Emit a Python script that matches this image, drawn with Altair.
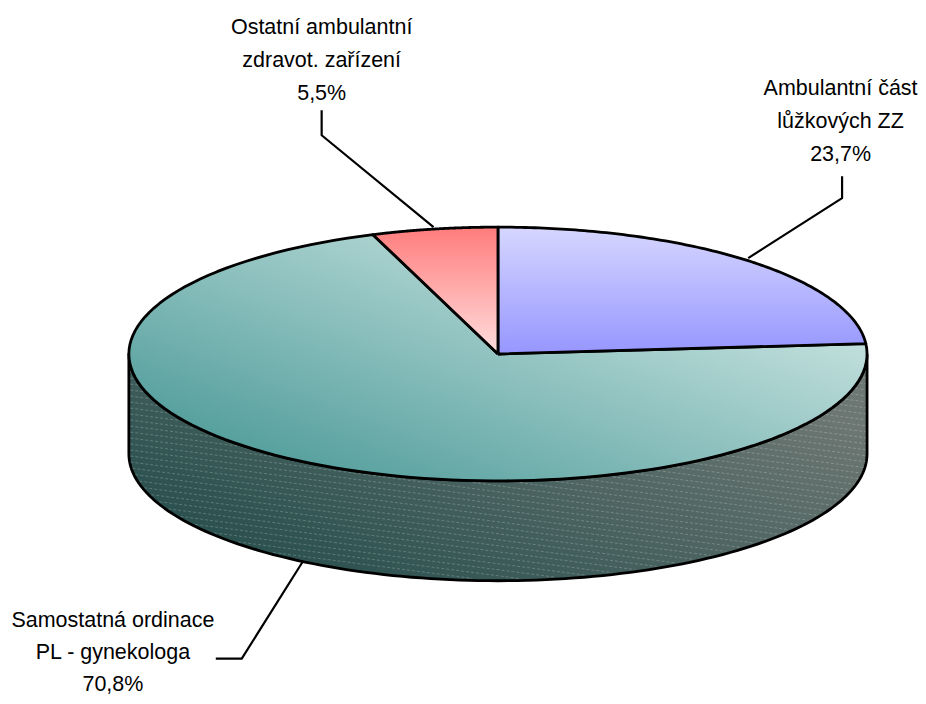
import math
import altair as alt
import pandas as pd

# ---- chart values ----
categories = ["Ambulantní část lůžkových ZZ", "Samostatná ordinace PL - gynekologa", "Ostatní ambulantní zdravot. zařízení"]
shares = [23.7, 70.8, 5.5]
label_lines = [
    ["Ambulantní část", "lůžkových ZZ", "23,7%"],
    ["Samostatná ordinace", "PL - gynekologa", "70,8%"],
    ["Ostatní ambulantní", "zdravot. zařízení", "5,5%"],
]

# ---- layout (image pixels) ----
CX, CY, RX, RY, DEPTH = 498.5, 354.0, 369.5, 127.0, 100.0
FONT = "Liberation Sans"
FS = 21.5
label_x = [841.5, 113, 322]
label_base = [95, 627, 34]
label_step = [33, 32, 33]
leaders = [
    [(749, 258), (843, 198), (843, 176)],
    [(303, 562), (242, 659), (216, 659)],
    [(434, 227), (322, 135), (322, 110)],
]


def pt(frac, dy=0.0):
    a = 2 * math.pi * frac
    return CX + RX * math.sin(a), CY - RY * math.cos(a) + dy


def arc(f0, f1, dy=0.0, n=120):
    return [pt(f0 + (f1 - f0) * i / n, dy) for i in range(n + 1)]


def grad(c0, c1, x1, y1, x2, y2):
    return alt.Gradient(gradient="linear", x1=x1, y1=y1, x2=x2, y2=y2,
                        stops=[alt.GradientStop(color=c0, offset=0), alt.GradientStop(color=c1, offset=1)])


xs = alt.Scale(domain=[8, 918], range=[0, 910], nice=False, zero=False)
ys = alt.Scale(domain=[8, 696], range=[0, 688], nice=False, zero=False)


def poly(points, fill=None, sw=2.8, color="black"):
    df = pd.DataFrame([{"x": p[0], "y": p[1], "o": i} for i, p in enumerate(points)])
    kw = dict(stroke=color, strokeWidth=sw, strokeJoin="round", clip=False)
    if fill is not None:
        kw.update(fill=fill, filled=True)
    return alt.Chart(df).mark_line(**kw).encode(
        x=alt.X("x:Q", scale=xs, axis=None),
        y=alt.Y("y:Q", scale=ys, axis=None),
        order="o:Q",
    )


fracs = []
c = 0.0
for s in shares:
    fracs.append((c / 100, (c + s) / 100))
    c += s

# side wall: visible front half of the cylinder
side_top = arc(0.25, 0.75)
side_pts = side_top + [(x, y + DEPTH) for x, y in reversed(side_top)]
side_pts.append(side_pts[0])
layers = [poly(side_pts, grad("#1d4948", "#6c7672", 0, 1, 1, 0.35))]

# fine hatch texture of the side wall
SLOPE, STEP = 0.13, 6.0
segs = []
c0 = CY - SLOPE * (CX + RX)
n_lines = int((RY + DEPTH + 2 * SLOPE * RX + RY) / STEP)


def front_edge(x):
    u = (x - CX) / RX
    return CY + RY * math.sqrt(max(0.0, 1 - u * u))


for k in range(n_lines + 1):
    off = c0 + k * STEP
    run = []
    x = CX - RX + 1.5
    while x <= CX + RX - 1.5:
        y = off + SLOPE * x
        if front_edge(x) + 2 < y < front_edge(x) + DEPTH - 2:
            run.append((x, y))
        elif run:
            segs.append(run)
            run = []
        x += 1.0
    if run:
        segs.append(run)
seg_df = pd.DataFrame([
    {"x": r[0][0], "y": r[0][1], "x2": r[-1][0], "y2": r[-1][1]} for r in segs if len(r) > 1
])
layers.append(
    alt.Chart(seg_df).mark_rule(stroke="white", strokeWidth=1, strokeDash=[3, 2], opacity=0.22).encode(
        x=alt.X("x:Q", scale=xs, axis=None), y=alt.Y("y:Q", scale=ys, axis=None), x2="x2:Q", y2="y2:Q")
)

fills = [
    grad("#d6d6ff", "#9696ff", 0, 0, 0, 1),
    grad("#3e9290", "#dcefec", 0, 1, 1, 0.1),
    grad("#ff7c7c", "#ffdede", 0, 0, 0, 1),
]
order = [1, 0, 2]
for i in order:
    f0, f1 = fracs[i]
    pts = [(CX, CY)] + arc(f0, f1) + [(CX, CY)]
    layers.append(poly(pts, fills[i]))

for path in leaders:
    layers.append(poly(path, sw=2.2))

rows = []
for lines, lx, lb, st in zip(label_lines, label_x, label_base, label_step):
    for k, t in enumerate(lines):
        rows.append({"x": lx, "y": lb + k * st, "t": t})
layers.append(
    alt.Chart(pd.DataFrame(rows)).mark_text(font=FONT, fontSize=FS, color="black", align="center", baseline="alphabetic").encode(
        x=alt.X("x:Q", scale=xs, axis=None), y=alt.Y("y:Q", scale=ys, axis=None), text="t:N")
)

chart = alt.layer(*layers).properties(width=910, height=688, padding=0, background="white").configure_view(stroke=None)
chart.save("out.html", embed_options={"renderer": "svg", "actions": False})
